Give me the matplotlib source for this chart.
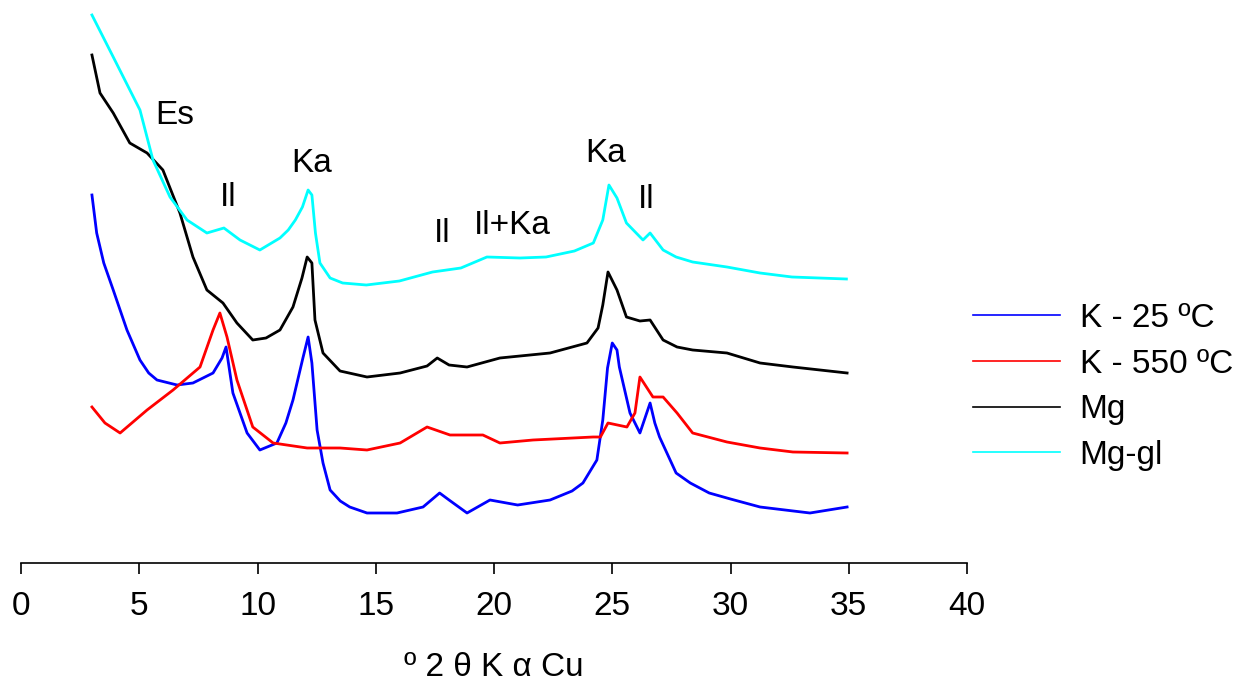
import matplotlib
matplotlib.use("Agg")
import matplotlib.pyplot as plt
from matplotlib.lines import Line2D

plt.rcParams['font.family'] = ['Liberation Sans', 'DejaVu Sans']

# Dane (2 theta, intensywnosc w jednostkach umownych)
tt_k25 = [3.0, 3.2, 3.5, 3.9, 4.48, 5.03, 5.4, 5.75, 6.6, 7.27, 8.12, 8.5, 8.67, 8.96, 9.56,
          10.1, 10.82, 11.2, 11.5, 11.92, 12.14, 12.3, 12.52, 12.77, 13.07, 13.5, 13.9, 14.63,
          15.9, 17.0, 17.7, 18.1, 18.86, 19.83, 21.0, 22.37, 23.3, 23.76, 24.35, 24.6,
          24.8, 25.0, 25.2, 25.3, 25.75, 26.17, 26.6, 26.8, 27.0, 27.7, 28.3, 29.1, 30.0,
          31.25, 33.36, 34.93]
i_k25 = [368, 330, 300, 273, 233, 203, 190, 183, 178, 180, 190, 205, 216, 170, 130,
         113, 120, 140, 163, 205, 226, 200, 133, 100, 73, 62, 56, 50,
         50, 56, 70, 63, 50, 63, 58, 63, 72, 80, 103, 143,
         195, 220, 213, 196, 150, 130, 160, 140, 126, 90, 80, 70, 64,
         56, 50, 56]

tt_k550 = [3.0, 3.55, 4.19, 5.33, 6.43, 7.57, 8.12, 8.41, 8.71, 9.13, 9.8, 10.66, 12.1,
           13.49, 14.63, 16.03, 17.17, 18.14, 19.53, 20.25, 21.65, 24.19, 24.5, 24.82,
           25.62, 25.96, 26.17, 26.72, 27.15, 27.74, 28.4, 29.85, 31.25, 32.64, 34.93]
i_k550 = [156, 140, 130, 153, 173, 196, 233, 250, 226, 183, 136, 120, 115,
          115, 113, 120, 136, 128, 128, 120, 123, 126, 126, 140,
          136, 150, 186, 166, 166, 150, 130, 121, 115, 111, 110]

tt_mg = [3.0, 3.34, 3.9, 4.6, 5.33, 6.0, 6.72, 7.27, 7.86, 8.54, 9.13, 9.8, 10.36, 10.95,
         11.5, 11.88, 12.1, 12.3, 12.43, 12.77, 13.49, 14.63, 16.03, 17.17, 17.6, 18.1,
         18.86, 20.25, 22.37, 23.93, 24.4, 24.6, 24.82, 25.2, 25.6, 26.17, 26.6, 27.15,
         27.74, 28.4, 29.85, 31.25, 32.64, 34.93]
i_mg = [508, 470, 450, 420, 410, 393, 350, 306, 273, 260, 240, 223, 225, 233,
        256, 285, 306, 300, 243, 210, 192, 186, 190, 197, 205, 198,
        196, 205, 210, 220, 235, 258, 291, 273, 246, 242, 243, 223,
        216, 213, 210, 200, 196, 190]

tt_mggl = [3.0, 3.9, 5.03, 5.58, 6.3, 7.02, 7.86, 8.58, 9.26, 10.1, 10.95, 11.3, 11.6,
           11.9, 12.14, 12.3, 12.45, 12.64, 13.07, 13.6, 14.6, 16.0, 17.4, 18.6, 19.7,
           21.1, 22.2, 23.4, 24.2, 24.6, 24.86, 25.2, 25.6, 26.3, 26.6, 27.15, 27.7, 28.4,
           29.85, 31.25, 32.6, 34.9]
i_mggl = [548, 506, 453, 403, 366, 343, 330, 335, 323, 313, 325, 333, 343,
          356, 373, 368, 330, 300, 285, 280, 278, 282, 291, 295, 306,
          305, 306, 312, 320, 343, 378, 365, 340, 323, 330, 313, 306, 301,
          296, 290, 286, 284]

series = [
    (tt_k25, i_k25, "#0000ff", "K - 25 ºC"),
    (tt_k550, i_k550, "#ff0000", "K - 550 ºC"),
    (tt_mg, i_mg, "#000000", "Mg"),
    (tt_mggl, i_mggl, "#00ffff", "Mg-gl"),
]

# Opisy refleksow
peak_labels = ["Es", "Il", "Ka", "Il", "Il+Ka", "Ka", "Il"]
peak_x = [6.5, 8.75, 12.3, 17.8, 20.76, 24.7, 26.45]
peak_y = [448, 366, 400, 330, 338, 410, 363]

fig = plt.figure(figsize=(12.5, 6.88), dpi=100)
ax = fig.add_axes([21 / 1250, 1 - 563 / 688, (967 - 21) / 1250, 563 / 688])

for tt, inten, col, lab in series:
    ax.plot(tt, inten, color=col, lw=2.0)

for lab, x, y in zip(peak_labels, peak_x, peak_y):
    ax.text(x, y, lab, fontsize=24, ha="center", va="center")

ax.set_xlim(0, 40)
ax.set_ylim(0, 563)
ax.set_xticks(range(0, 41, 5))
ax.set_yticks([])
for s in ["top", "right", "left"]:
    ax.spines[s].set_visible(False)
ax.spines["bottom"].set_linewidth(1.2)
ax.tick_params(axis="x", direction="out", length=8, width=1.2, labelsize=24, pad=12)
ax.set_xlabel("º 2 θ K α Cu", fontsize=24, labelpad=22)

handles = [Line2D([0], [0], color=col, lw=1.2) for _, _, col, _ in series]
labels = [lab for _, _, _, lab in series]
fig.legend(handles, labels, loc="upper left", bbox_to_anchor=(973 / 1250, 1 - 303 / 688),
           frameon=False, fontsize=24, handlelength=2.6, handletextpad=0.6,
           labelspacing=0.44, borderpad=0, borderaxespad=0)

fig.savefig("out.png", dpi=100)
